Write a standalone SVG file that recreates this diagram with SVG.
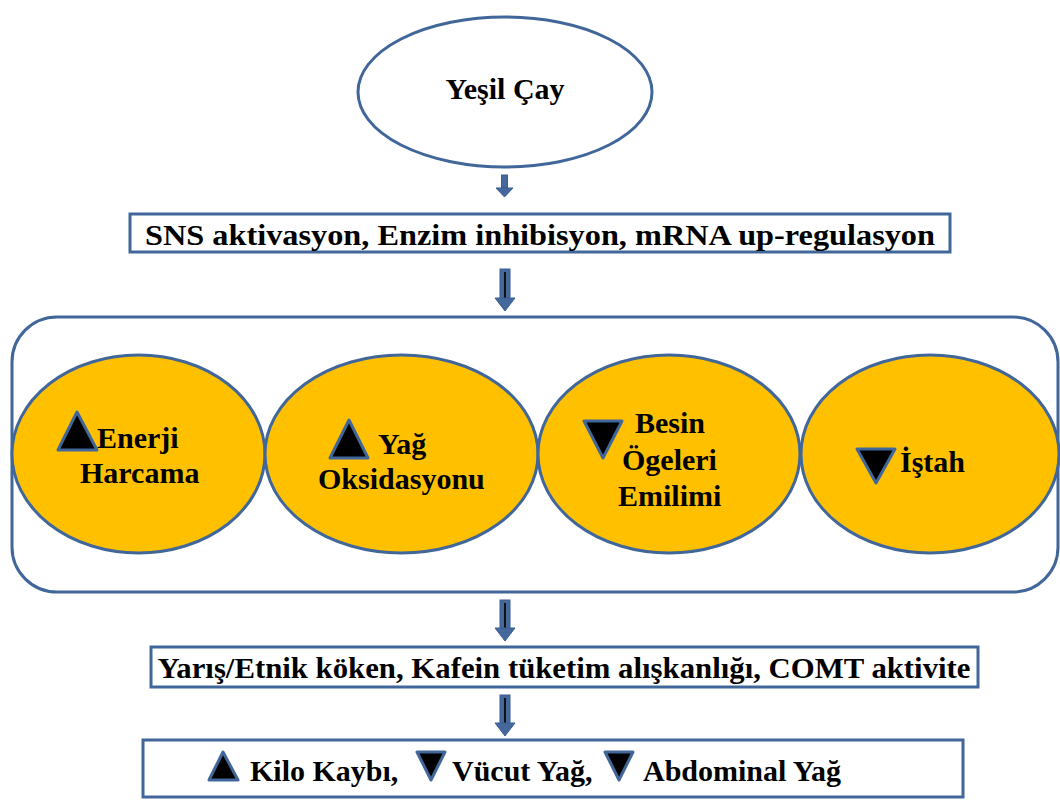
<svg xmlns="http://www.w3.org/2000/svg" width="1060" height="801" viewBox="0 0 1060 801">
<style>
.t{font-family:"Liberation Serif","Times New Roman",serif;font-weight:bold;font-size:30px;fill:#000}
.c{text-anchor:middle}
.ln{fill:#fff;stroke:#41679a;stroke-width:3}
.ov{fill:#FFC000;stroke:#41679a;stroke-width:3}
.tri{fill:#000;stroke:#41679a;stroke-width:3;stroke-linejoin:round}
.ah{fill:#45699c;stroke:#3a5f8f;stroke-width:1}
.core{stroke:#111;stroke-width:2}
</style>
<rect width="1060" height="801" fill="#fff"/>
<g id="connectors">
  <g id="a1"><rect class="ah" x="501.5" y="175" width="6" height="13"/><polygon class="ah" points="496,188 513,188 504.5,197"/></g>
  <g id="a2"><rect class="ah" x="500" y="269" width="10" height="30"/><line class="core" x1="505" y1="272" x2="505" y2="303"/><polygon class="ah" points="495,298 515,298 505,311"/></g>
  <g id="a3"><rect class="ah" x="500" y="600" width="10" height="29"/><line class="core" x1="505" y1="603" x2="505" y2="633"/><polygon class="ah" points="495,628 515,628 505,641"/></g>
  <g id="a4"><rect class="ah" x="500" y="695" width="10" height="29"/><line class="core" x1="505" y1="698" x2="505" y2="728"/><polygon class="ah" points="495,723 515,723 505,736"/></g>
</g>
<g id="yesil-cay">
  <ellipse class="ln" cx="505" cy="92" rx="147" ry="75"/>
  <text class="t c" x="505" y="99">Yeşil Çay</text>
</g>
<g id="mekanizma">
  <rect class="ln" x="130" y="214" width="820" height="38"/>
  <text class="t c" x="540" y="245" textLength="790" lengthAdjust="spacingAndGlyphs">SNS aktivasyon, Enzim inhibisyon, mRNA up-regulasyon</text>
</g>
<g id="etkiler">
  <rect class="ln" x="12" y="317" width="1046" height="275" rx="45"/>
</g>
<g id="enerji">
  <ellipse class="ov" cx="138.5" cy="454" rx="126.5" ry="99"/>
  <polygon class="tri" points="77,412 97,450 58,450"/>
  <text class="t" x="97" y="448">Enerji</text>
  <text class="t" x="80" y="483">Harcama</text>
</g>
<g id="yag">
  <ellipse class="ov" cx="401.5" cy="454" rx="136.5" ry="99"/>
  <polygon class="tri" points="349,420 368,458 330,458"/>
  <text class="t" x="378" y="454">Yağ</text>
  <text class="t" x="318" y="489">Oksidasyonu</text>
</g>
<g id="besin">
  <ellipse class="ov" cx="669" cy="454" rx="131" ry="99"/>
  <polygon class="tri" points="584,421 622,421 603,458"/>
  <text class="t" x="635" y="433">Besin</text>
  <text class="t" x="622" y="470">Ögeleri</text>
  <text class="t" x="618" y="506">Emilimi</text>
</g>
<g id="istah">
  <ellipse class="ov" cx="930" cy="454" rx="129" ry="99"/>
  <polygon class="tri" points="857,449 895,449 876,483"/>
  <text class="t" x="900" y="472">İştah</text>
</g>
<g id="faktorler">
  <rect class="ln" x="151" y="647" width="827" height="40"/>
  <text class="t c" x="564" y="678" textLength="813" lengthAdjust="spacingAndGlyphs">Yarış/Etnik köken, Kafein tüketim alışkanlığı, COMT aktivite</text>
</g>
<g id="sonuc">
  <rect class="ln" x="143" y="740" width="820" height="57"/>
  <polygon class="tri" points="223,752 238,780 209,780"/>
  <text class="t" x="250" y="781">Kilo Kaybı,</text>
  <polygon class="tri" points="417,752 445,752 431,780"/>
  <text class="t" x="452" y="781">Vücut Yağ,</text>
  <polygon class="tri" points="605,752 633,752 619,780"/>
  <text class="t" x="643" y="781">Abdominal Yağ</text>
</g>
</svg>
